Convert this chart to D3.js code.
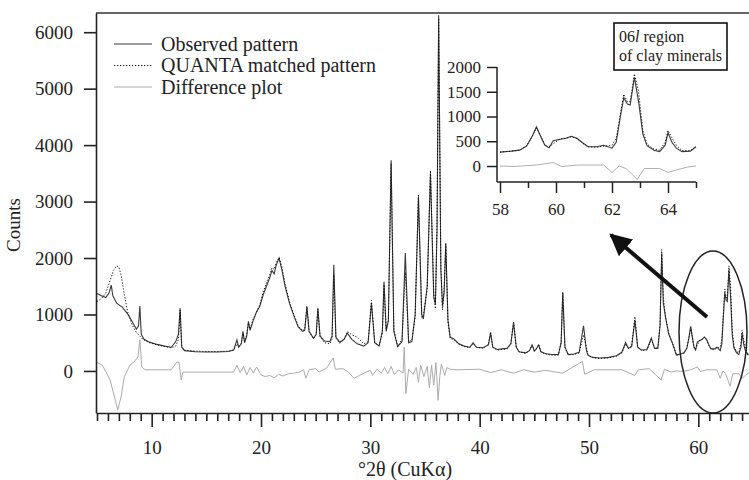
<!DOCTYPE html>
<html>
<head>
<meta charset="utf-8">
<script src="https://cdn.jsdelivr.net/npm/d3@7"></script>
<style>
  html, body { margin: 0; padding: 0; background: #fff; }
  svg { display: block; }
</style>
</head>
<body>
<svg id="chart" width="749" height="480"></svg>
<script>
// observed pattern, [°2θ, counts]
const observed = [
  [5.0,1370],[5.4,1330],[5.8,1300],[6.1,1380],[6.3,1520],[6.45,1330],[6.8,1200],[7.3,1130],
  [7.8,1010],[8.2,880],[8.6,740],[8.8,800],[8.92,1150],[9.05,650],[9.3,560],[9.8,510],
  [10.5,470],[11.2,440],[11.8,420],[12.2,520],[12.45,650],[12.6,1110],[12.75,420],[13.0,360],
  [14.0,340],[15.0,335],[16.0,335],[17.0,345],[17.5,370],[17.8,550],[17.95,420],[18.2,480],
  [18.35,700],[18.5,500],[18.7,620],[18.85,880],[19.0,720],[19.3,900],[19.6,1050],[19.9,1150],
  [20.2,1350],[20.5,1500],[20.8,1650],[21.0,1780],[21.2,1720],[21.4,1880],[21.65,2000],[21.9,1800],
  [22.2,1500],[22.6,1200],[23.0,980],[23.4,780],[23.8,700],[24.0,720],[24.2,1130],[24.4,700],
  [24.8,580],[25.05,650],[25.2,1110],[25.4,620],[25.8,530],[26.3,520],[26.5,620],[26.66,1880],
  [26.85,600],[27.2,510],[27.6,560],[27.9,670],[28.3,560],[28.8,480],[29.4,440],[29.8,500],
  [30.1,1200],[30.4,500],[30.8,440],[31.1,700],[31.25,1580],[31.45,700],[31.65,900],[31.9,3730],
  [32.15,700],[32.5,430],[32.9,520],[33.2,2090],[33.5,500],[33.8,520],[34.1,1000],[34.4,3080],
  [34.7,1000],[34.85,920],[35.2,1500],[35.5,3500],[35.8,1300],[35.95,1180],[36.1,2500],[36.25,6300],
  [36.45,1800],[36.6,1150],[36.75,1400],[36.9,2260],[37.1,900],[37.3,600],[37.7,560],[38.1,480],
  [38.6,440],[39.1,420],[39.4,500],[39.7,420],[40.3,410],[40.8,460],[41.0,670],[41.2,420],
  [41.6,380],[42.0,390],[42.5,400],[42.85,480],[43.1,850],[43.35,420],[43.6,340],[44.2,320],
  [44.55,360],[44.8,460],[45.0,350],[45.15,380],[45.4,460],[45.6,340],[46.0,310],[46.6,290],
  [47.2,290],[47.45,500],[47.6,1380],[47.8,420],[48.1,290],[48.6,300],[49.1,330],[49.5,800],
  [49.75,380],[49.9,280],[50.3,240],[51.0,230],[51.8,240],[52.5,270],[53.0,330],[53.35,500],
  [53.6,400],[53.9,430],[54.2,900],[54.45,420],[54.8,370],[55.3,380],[55.7,580],[56.0,400],
  [56.3,400],[56.5,800],[56.65,2080],[56.8,1200],[57.0,950],[57.3,650],[57.65,480],[58.0,280],
  [58.4,300],[58.7,320],[58.95,400],[59.15,600],[59.3,790],[59.45,600],[59.6,420],[59.75,370],
  [59.9,510],[60.15,540],[60.35,560],[60.55,600],[60.75,560],[60.95,470],[61.15,390],[61.45,390],
  [61.7,420],[62.0,360],[62.15,480],[62.3,1000],[62.42,1380],[62.55,1250],[62.65,1230],[62.8,1790],
  [62.95,1300],[63.1,650],[63.25,410],[63.5,320],[63.7,290],[63.9,420],[64.0,670],[64.15,470],
  [64.3,360],[64.5,290],[64.8,300],[65.0,390]
];

// QUANTA matched (calculated) pattern
const matched = [
  [5.0,1230],[5.4,1280],[5.8,1380],[6.2,1600],[6.5,1780],[6.8,1860],[7.0,1840],[7.2,1700],
  [7.5,1350],[7.8,1050],[8.2,820],[8.6,680],[8.9,620],[9.2,560],[9.8,500],
  [10.5,460],[11.2,430],[11.8,410],[12.2,440],[12.45,560],[12.6,1080],[12.75,440],[13.0,370],
  [14.0,350],[15.0,345],[16.0,345],[17.0,350],[17.5,370],[17.8,480],[17.95,430],[18.2,490],
  [18.35,660],[18.5,520],[18.7,650],[18.85,850],[19.0,740],[19.3,930],[19.6,1040],[19.9,1180],
  [20.2,1400],[20.5,1560],[20.8,1700],[21.0,1830],[21.2,1800],[21.4,1920],[21.65,2010],[21.9,1850],
  [22.2,1540],[22.6,1230],[23.0,1000],[23.4,800],[23.8,710],[24.0,740],[24.2,1150],[24.4,700],
  [24.8,570],[25.05,650],[25.2,1100],[25.4,610],[25.8,500],[26.3,480],[26.5,560],[26.66,1700],
  [26.85,580],[27.2,490],[27.6,560],[27.9,700],[28.3,640],[28.8,600],[29.4,480],[29.8,520],
  [30.1,1250],[30.4,500],[30.8,450],[31.1,680],[31.25,1530],[31.45,740],[31.65,880],[31.9,3680],
  [32.15,740],[32.5,430],[32.9,560],[33.2,1750],[33.5,520],[33.8,540],[34.1,960],[34.4,3120],
  [34.7,950],[34.85,980],[35.2,1450],[35.5,3550],[35.8,1380],[35.95,1100],[36.1,2600],[36.25,6250],
  [36.45,1850],[36.6,1080],[36.75,1420],[36.9,2250],[37.1,870],[37.3,580],[37.7,540],[38.1,470],
  [38.6,430],[39.1,410],[39.4,480],[39.7,420],[40.3,400],[40.8,470],[41.0,690],[41.2,420],
  [41.6,370],[42.0,380],[42.5,390],[42.85,480],[43.1,880],[43.35,420],[43.6,340],[44.2,310],
  [44.55,360],[44.8,460],[45.0,360],[45.15,390],[45.4,470],[45.6,340],[46.0,300],[46.6,280],
  [47.2,280],[47.45,500],[47.6,1400],[47.8,420],[48.1,290],[48.6,290],[49.1,320],[49.5,640],
  [49.75,420],[49.9,290],[50.3,240],[51.0,220],[51.8,230],[52.5,260],[53.0,320],[53.35,480],
  [53.6,400],[53.9,440],[54.2,960],[54.45,420],[54.8,360],[55.3,370],[55.7,560],[56.0,400],
  [56.3,420],[56.5,850],[56.65,2150],[56.8,1300],[57.0,960],[57.3,660],[57.65,490],[58.0,280],
  [58.4,300],[58.7,320],[58.95,410],[59.15,600],[59.3,770],[59.45,610],[59.6,430],[59.75,380],
  [59.9,450],[60.15,550],[60.35,560],[60.55,590],[60.75,550],[60.95,460],[61.15,390],[61.45,380],
  [61.7,400],[62.0,420],[62.15,560],[62.3,1050],[62.42,1450],[62.55,1300],[62.65,1300],[62.8,1860],
  [62.95,1500],[63.1,720],[63.25,440],[63.5,340],[63.7,320],[63.9,480],[64.0,720],[64.15,560],
  [64.3,420],[64.5,310],[64.8,310],[65.0,400]
];

// difference plot
const difference = [
  [5.0,150],[5.5,100],[6.2,-160],[6.6,-460],[6.9,-690],[7.2,-460],[7.5,-100],[8.0,100],
  [8.4,160],[8.75,250],[8.92,550],[9.1,70],[9.4,20],[11.8,20],[12.3,160],[12.5,150],
  [12.7,-160],[12.85,-20],[17.5,-20],[17.8,100],[18.1,-30],[18.4,80],[18.7,-70],[19.0,60],
  [19.3,-40],[19.6,70],[20.0,-70],[20.4,-100],[20.8,-80],[21.2,-120],[21.6,-60],[22.0,-90],
  [22.5,-50],[23.0,-40],[23.5,-20],[23.9,20],[24.1,-130],[24.4,20],[25.0,40],[25.3,-20],
  [26.0,50],[26.6,230],[26.8,30],[27.5,40],[28.0,-20],[28.5,-130],[29.0,-80],[29.5,-30],
  [30.0,10],[30.2,-80],[30.6,30],[31.0,-40],[31.3,60],[31.6,-50],[31.9,80],[32.2,-60],
  [32.6,20],[33.0,-40],[33.1,420],[33.25,-400],[33.5,30],[33.9,-60],[34.2,60],[34.4,-200],
  [34.6,100],[34.9,-100],[35.2,80],[35.4,-300],[35.6,100],[35.8,-250],[36.0,150],[36.2,-520],
  [36.35,-100],[36.5,120],[36.8,-80],[37.0,60],[37.3,30],[38.0,20],[40.0,30],[41.0,-30],
  [42.0,20],[43.1,-40],[44.0,20],[45.0,-20],[46.0,10],[47.6,-40],[49.4,170],[49.6,-60],
  [50.5,20],[53.0,20],[54.2,-80],[54.5,20],[55.5,40],[56.6,-160],[56.9,30],[57.5,-20],
  [58.0,0],[58.5,-10],[59.3,20],[59.9,70],[60.2,-10],[60.8,20],[61.7,20],[62.0,-130],
  [62.25,0],[62.5,-50],[62.9,-270],[63.15,-50],[63.7,-50],[64.0,-130],[64.3,-80],[64.7,-20],
  [65.0,0]
];

const yTicks = [0, 1000, 2000, 3000, 4000, 5000, 6000];
const xTicks = d3.range(5, 66, 1);              // one tick per degree
const xLabelled = [10, 20, 30, 40, 50, 60];
const insetYTicks = [0, 500, 1000, 1500, 2000];
const insetXTicks = [58, 59, 60, 61, 62, 63, 64, 65];
const insetXLabelled = [58, 60, 62, 64];
const legendLabels = ['Observed pattern', 'QUANTA matched pattern', 'Difference plot'];

const svg = d3.select('#chart');
const FONT = '"Liberation Serif", "Times New Roman", serif';
const INK = '#222';

function styleAxis(g, size, width) {
  g.attr('font-family', FONT).attr('font-size', size);
  g.selectAll('line').attr('stroke', INK).attr('stroke-width', width);
  g.select('.domain').attr('stroke', INK).attr('stroke-width', width);
  g.selectAll('text').attr('fill', INK);
}

// ---- main plot ----
const x = d3.scaleLinear().domain([5, 65]).range([97, 753]);
const y = d3.scaleLinear().domain([-745, 6340]).range([413, 13]);

svg.append('clipPath').attr('id', 'clipMain')
  .append('rect').attr('x', 96).attr('y', 12).attr('width', 700).attr('height', 402);

const line = d3.line().x(d => x(d[0])).y(d => y(d[1]));

const plot = svg.append('g').attr('clip-path', 'url(#clipMain)');
plot.append('path').datum(difference)
  .attr('d', line).attr('fill', 'none').attr('stroke', '#ababab').attr('stroke-width', 1);
plot.append('path').datum(observed)
  .attr('d', line).attr('fill', 'none').attr('stroke', '#3a3a3a').attr('stroke-width', 1.1);
plot.append('path').datum(matched)
  .attr('d', line).attr('fill', 'none').attr('stroke', '#111').attr('stroke-width', 1)
  .attr('stroke-dasharray', '1.2,1.8');

// frame: top border
svg.append('line').attr('x1', 96).attr('x2', 749).attr('y1', 13).attr('y2', 13)
  .attr('stroke', '#333').attr('stroke-width', 1.5);

// x axis: every degree, long ticks and labels every 10
const xAxis = svg.append('g').attr('transform', 'translate(0,413)')
  .call(d3.axisBottom(x).tickValues(xTicks).tickSize(8).tickSizeOuter(0).tickPadding(20)
    .tickFormat(v => xLabelled.includes(v) ? String(v) : ''));
styleAxis(xAxis, 19, 1.6);
xAxis.selectAll('.tick line').filter(v => xLabelled.includes(v)).attr('y2', 14);

// y axis
const yAxis = svg.append('g').attr('transform', 'translate(96,0)')
  .call(d3.axisLeft(y).tickValues(yTicks).tickSize(12).tickSizeOuter(0).tickPadding(11)
    .tickFormat(d3.format('d')));
styleAxis(yAxis, 19, 1.6);

// axis titles
svg.append('text').attr('transform', 'translate(20,225) rotate(-90)')
  .attr('text-anchor', 'middle').attr('font-family', FONT).attr('font-size', 19)
  .attr('fill', INK).text('Counts');
svg.append('text').attr('x', 405).attr('y', 476).attr('text-anchor', 'middle')
  .attr('font-family', FONT).attr('font-size', 20).attr('fill', INK)
  .text('°2θ (CuKα)');

// legend
const legendStyles = [
  { stroke: '#3a3a3a', dash: null },
  { stroke: '#111', dash: '1.2,1.8' },
  { stroke: '#ababab', dash: null }
];
const legend = svg.append('g');
legendLabels.forEach((label, i) => {
  const ly = 44 + i * 21.5;
  legend.append('line').attr('x1', 114).attr('x2', 152).attr('y1', ly).attr('y2', ly)
    .attr('stroke', legendStyles[i].stroke).attr('stroke-width', 1.1)
    .attr('stroke-dasharray', legendStyles[i].dash);
  legend.append('text').attr('x', 161).attr('y', ly + 6.5)
    .attr('font-family', FONT).attr('font-size', 20).attr('fill', INK).text(label);
});

// ellipse around 06l region and arrow to the inset
svg.append('ellipse').attr('cx', 713).attr('cy', 332).attr('rx', 34).attr('ry', 81)
  .attr('fill', 'none').attr('stroke', INK).attr('stroke-width', 1.5);
svg.append('defs').append('marker').attr('id', 'head')
  .attr('viewBox', '0 0 10 10').attr('refX', 9).attr('refY', 5)
  .attr('markerWidth', 5.5).attr('markerHeight', 5.5).attr('orient', 'auto')
  .append('path').attr('d', 'M0,0L10,5L0,10z').attr('fill', '#111');
svg.append('line').attr('x1', 707).attr('y1', 317).attr('x2', 611).attr('y2', 235)
  .attr('stroke', '#111').attr('stroke-width', 4).attr('marker-end', 'url(#head)');

// ---- inset: 06l region ----
const ix = d3.scaleLinear().domain([58, 65]).range([500, 696]);
const iy = d3.scaleLinear().domain([-323, 2000]).range([182, 67]);
const inRange = d => d[0] >= 58 && d[0] <= 65;
const iline = d3.line().x(d => ix(d[0])).y(d => iy(d[1]));

const inset = svg.append('g');
inset.append('path').datum(difference.filter(inRange))
  .attr('d', iline).attr('fill', 'none').attr('stroke', '#b0b0b0').attr('stroke-width', 1);
inset.append('path').datum(observed.filter(inRange))
  .attr('d', iline).attr('fill', 'none').attr('stroke', '#3a3a3a').attr('stroke-width', 1.1);
inset.append('path').datum(matched.filter(inRange))
  .attr('d', iline).attr('fill', 'none').attr('stroke', '#111').attr('stroke-width', 1)
  .attr('stroke-dasharray', '1.2,1.8');

const ixAxis = inset.append('g').attr('transform', 'translate(0,182)')
  .call(d3.axisBottom(ix).tickValues(insetXTicks).tickSize(6).tickSizeOuter(0).tickPadding(15)
    .tickFormat(v => insetXLabelled.includes(v) ? String(v) : ''));
styleAxis(ixAxis, 17, 1.5);
ixAxis.select('.domain').attr('d', `M${ix(58) - 3},0H${ix(65)}`);
ixAxis.selectAll('.tick line').filter(v => insetXLabelled.includes(v)).attr('y2', 11);

const iyAxis = inset.append('g').attr('transform', 'translate(497,0)')
  .call(d3.axisLeft(iy).tickValues(insetYTicks).tickSize(10).tickSizeOuter(0).tickPadding(6)
    .tickFormat(d3.format('d')));
styleAxis(iyAxis, 17, 1.5);
iyAxis.select('.domain').attr('d', `M0,${iy(2000)}V${iy(-323)}`);

// annotation box
inset.append('rect').attr('x', 614).attr('y', 23).attr('width', 113).attr('height', 47)
  .attr('fill', '#fff').attr('stroke', '#111').attr('stroke-width', 1.6);
const note = inset.append('text').attr('font-family', FONT).attr('font-size', 16).attr('fill', INK);
const first = note.append('tspan').attr('x', 619).attr('y', 42);
first.append('tspan').text('06');
first.append('tspan').attr('font-style', 'italic').text('l');
first.append('tspan').text(' region');
note.append('tspan').attr('x', 619).attr('y', 61).text('of clay minerals');
</script>
</body>
</html>
